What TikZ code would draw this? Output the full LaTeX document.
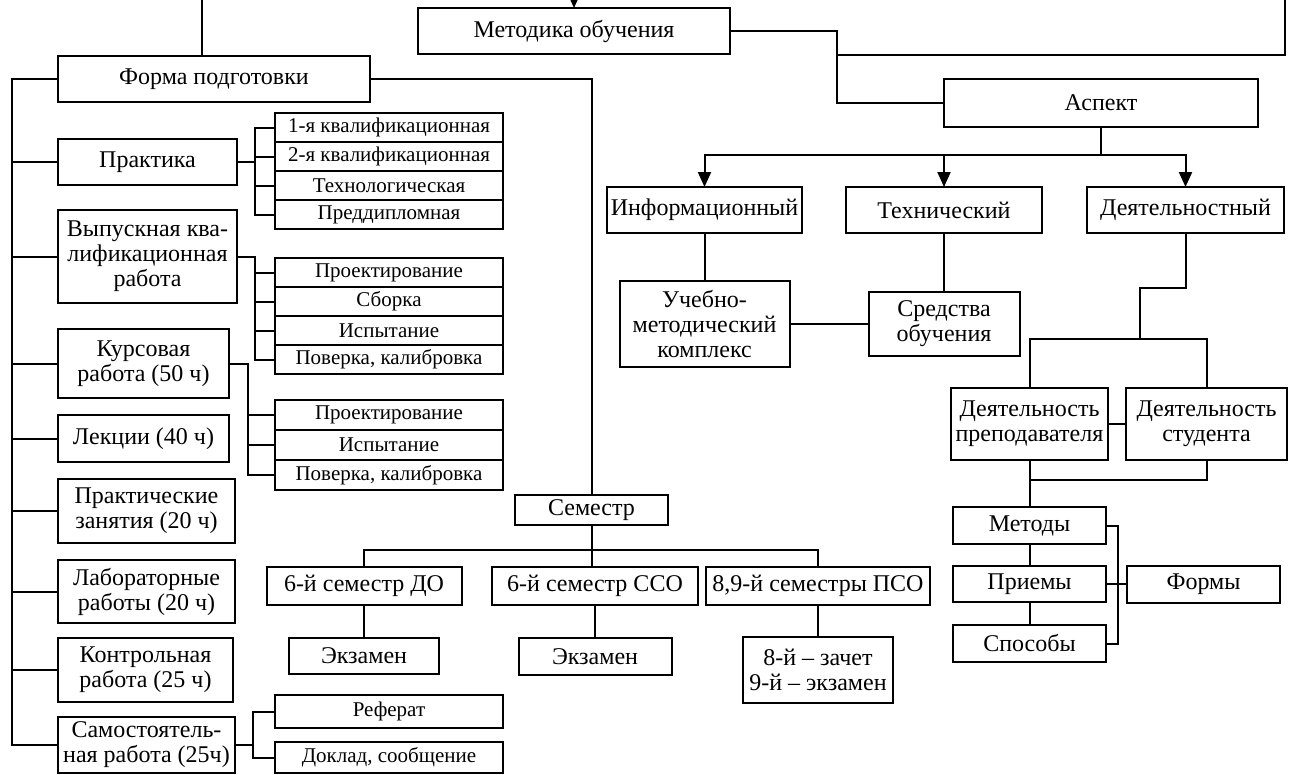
\documentclass[tikz,border=0pt]{standalone}
\usepackage{fontspec}
\setmainfont{Liberation Serif}
\usetikzlibrary{arrows.meta,positioning}
\newcommand{\mainsz}{\fontsize{24}{25}\selectfont}
\newcommand{\subsz}{\fontsize{21}{22}\selectfont}
\tikzset{
  blk/.style={
    draw,
    line width=2pt,
    inner sep=1pt,
    outer sep=0pt,
    align=center,
    font=\mainsz
  },
  subblk/.style={
    blk,
    font=\subsz,
    minimum width=228pt,
    minimum height=29pt
  },
  link/.style={
    line width=2pt
  },
  arr/.style={
    -{Triangle[length=15pt,width=13pt]},
    line width=2pt
  }
}

\begin{document}
\begin{tikzpicture}[x=1pt,y=-1pt]
\clip (0,0) rectangle (1289,774);
% top level
\node[blk, minimum width=312pt, minimum height=46pt] (metod) at (574,31) {Методика обучения};
\node[blk, minimum width=312pt, minimum height=46pt] (forma) at (214,79) {Форма подготовки};
\node[blk, minimum width=314pt, minimum height=48pt] (aspekt) at (1101,103) {Аспект};
\coordinate (inM) at (574,-20);
\coordinate (topL) at (202,0);
\coordinate (topR) at (1285,0);
\coordinate (mbus) at (837,55);
\coordinate (lbus) at (12,79);

% left column
\node[blk, minimum width=179pt, minimum height=46pt] (prakt) at (147.5,162) {Практика};
\node[blk, minimum width=179pt, minimum height=93pt] (vkr) at (147.5,256.5) {Выпускная ква-\\лификационная\\работа};
\node[blk, minimum width=171pt, minimum height=69pt] (kurs) at (143.5,363.5) {Курсовая\\работа (50 ч)};
\node[blk, minimum width=171pt, minimum height=47pt] (lekc) at (143.5,438.5) {Лекции (40 ч)};
\node[blk, minimum width=177pt, minimum height=64pt] (prakz) at (146.5,511) {Практические\\занятия (20 ч)};
\node[blk, minimum width=177pt, minimum height=63pt] (labr) at (146.5,591.5) {Лабораторные\\работы (20 ч)};
\node[blk, minimum width=175pt, minimum height=64pt] (kontr) at (145.5,670) {Контрольная\\работа (25 ч)};
\node[blk, minimum width=177pt, minimum height=56pt] (samost) at (146.5,745) {Самостоятель-\\ная работа (25ч)};

% sub-boxes
\node[subblk] (p1) at (389,127.5) {1-я квалификационная};
\node[subblk, below=0pt of p1] (p2) {2-я квалификационная};
\node[subblk, below=0pt of p2] (p3) {Технологическая};
\node[subblk, below=0pt of p3] (p4) {Преддипломная};
\node[subblk] (v1) at (389,272.5) {Проектирование};
\node[subblk, below=0pt of v1] (v2) {Сборка};
\node[subblk, below=0pt of v2] (v3) {Испытание};
\node[subblk, below=0pt of v3] (v4) {Поверка, калибровка};
\node[subblk, minimum height=30pt] (k1) at (389,415) {Проектирование};
\node[subblk, minimum height=30pt, below=0pt of k1] (k2) {Испытание};
\node[subblk, minimum height=30pt, below=0pt of k2] (k3) {Поверка, калибровка};
\node[subblk, minimum height=33pt] (ref) at (389,711.5) {Реферат};
\node[subblk, minimum height=31pt] (dokl) at (389,757.5) {Доклад, сообщение};
\coordinate (pbus) at (255,0);
\coordinate (vbus) at (255,0);
\coordinate (kbus) at (248,0);
\coordinate (rbus) at (253,0);

% semesters
\node[blk, minimum width=153pt, minimum height=30pt] (semestr) at (591.5,510) {Семестр};
\node[blk, minimum width=195pt, minimum height=38pt] (sem1) at (364,586) {6-й семестр ДО};
\node[blk, minimum width=206pt, minimum height=38pt] (sem2) at (595,586) {6-й семестр ССО};
\node[blk, minimum width=224pt, minimum height=38pt] (sem3) at (818,586) {8,9-й семестры ПСО};
\node[blk, minimum width=150pt, minimum height=36pt] (ekz1) at (364,656) {Экзамен};
\node[blk, minimum width=153pt, minimum height=37pt] (ekz2) at (595,656.5) {Экзамен};
\node[blk, minimum width=150pt, minimum height=66pt] (zach) at (818,670) {8-й – зачет\\9-й – экзамен};
\coordinate (sembus) at (591.5,550);

% aspects
\node[blk, minimum width=195pt, minimum height=46pt] (inf) at (704.5,210) {Информационный};
\node[blk, minimum width=196pt, minimum height=46pt] (tech) at (944,210) {Технический};
\node[blk, minimum width=197pt, minimum height=46pt] (deyat) at (1185.5,210) {Деятельностный};
\node[blk, minimum width=170pt, minimum height=86pt] (umk) at (704.5,324) {Учебно-\\методический\\комплекс};
\node[blk, minimum width=151pt, minimum height=64pt] (sredstva) at (944,324) {Средства\\обучения};
\node[blk, minimum width=157pt, minimum height=72pt] (dp) at (1029.5,424) {Деятельность\\преподавателя};
\node[blk, minimum width=161pt, minimum height=72pt] (ds) at (1206.5,424) {Деятельность\\студента};
\node[blk, minimum width=153pt, minimum height=37pt] (metody) at (1029.5,525.5) {Методы};
\node[blk, minimum width=153pt, minimum height=36pt] (priemy) at (1029.5,584) {Приемы};
\node[blk, minimum width=153pt, minimum height=37pt] (sposoby) at (1029.5,643.5) {Способы};
\node[blk, minimum width=153pt, minimum height=37pt] (formy) at (1203.5,584) {Формы};
\coordinate (abus) at (1101,155);
\coordinate (dj) at (1140,288);
\coordinate (dbus) at (1140,339);
\coordinate (mj) at (1029.5,480);
\coordinate (fbus) at (1118,0);

% connectors, top
\draw[arr] (inM) -- (metod.north);
\draw[link] (topL) -- (topL |- forma.north);
\draw[link] (metod.east) -| (mbus |- aspekt.west) -- (aspekt.west);
\draw[link] (mbus) -| (topR);
\draw[link] (forma.west) -- (lbus) |- (samost.west);
\foreach \b in {prakt,vkr,kurs,lekc,prakz,labr,kontr}
  \draw[link] (\b.west) -- (\b.west -| lbus);
\draw[link] (forma.east) -| (semestr.north);

% connectors, sub-boxes
\draw[link] (prakt.east) -- (prakt.east -| pbus);
\draw[link] (p1.west) -| (pbus |- p4.west) -- (p4.west);
\foreach \b in {p2,p3}
  \draw[link] (\b.west) -- (\b.west -| pbus);
\draw[link] (vkr.east) -| (vbus |- v4.west) -- (v4.west);
\foreach \b in {v1,v2,v3}
  \draw[link] (\b.west) -- (\b.west -| vbus);
\draw[link] (kurs.east) -| (kbus |- k3.west) -- (k3.west);
\foreach \b in {k1,k2}
  \draw[link] (\b.west) -- (\b.west -| kbus);
\draw[link] (samost.east) -- (samost.east -| rbus);
\draw[link] (ref.west) -| (rbus |- dokl.west) -- (dokl.west);

% connectors, semesters
\draw[link] (semestr.south) -- (semestr.south |- sem2.north);
\draw[link] (sem1.north) |- (sembus) -| (sem3.north);
\draw[link] (sem1) -- (ekz1);
\draw[link] (sem2) -- (ekz2);
\draw[link] (sem3) -- (zach);

% connectors, aspects
\draw[link] (aspekt.south) -- (abus);
\draw[arr] (abus) -| (inf.north);
\draw[arr] (abus) -| (deyat.north);
\draw[arr] (abus -| tech.north) -- (tech.north);
\draw[link] (inf) -- (umk);
\draw[link] (tech) -- (sredstva);
\draw[link] (umk) -- (sredstva);
\draw[link] (deyat.south) |- (dj) -- (dbus);
\draw[link] (dp.north) |- (dbus) -| (ds.north);
\draw[link] (dp) -- (ds);
\draw[link] (dp.south) -- (metody.north);
\draw[link] (ds.south) |- (mj);
\draw[link] (metody) -- (priemy);
\draw[link] (priemy) -- (sposoby);
\draw[link] (metody.east) -| (fbus |- sposoby.east) -- (sposoby.east);
\draw[link] (priemy) -- (formy);
\end{tikzpicture}
\end{document}
